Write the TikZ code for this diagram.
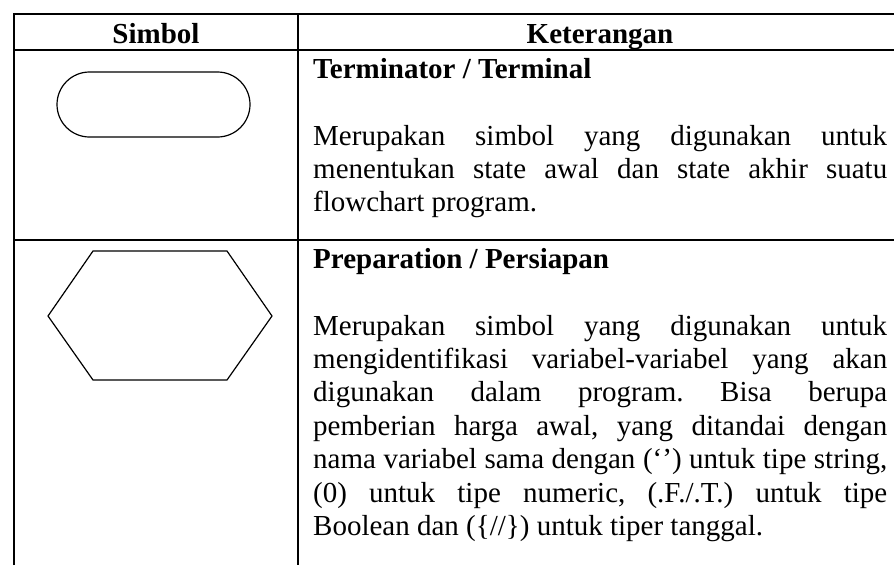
\documentclass[tikz,border=0pt]{standalone}
\usepackage{fontspec}
\setmainfont{Liberation Serif}
\usepackage{tikz}
\usetikzlibrary{positioning}

\newcommand{\celltext}[1]{\parbox[t]{574pt}{\fontsize{29}{33.4}\selectfont\frenchspacing\hyphenpenalty=10000 #1}}

\begin{document}
\begin{tikzpicture}[x=1pt,y=-1pt,
  headcell/.style={font=\fontsize{29}{33.4}\selectfont\bfseries,anchor=base,inner sep=0},
  rowtitle/.style={font=\fontsize{29}{33.4}\selectfont\bfseries,anchor=base west,inner sep=0},
  rowbody/.style={anchor=base west,inner sep=0},
  rule/.style={line width=2pt},
  symbolline/.style={line width=1.2pt}]
\path[use as bounding box,fill=white] (0,0) rectangle (894,565);
% table rules
\draw[rule] (14,565) -- (14,14) -- (894,14);
\draw[rule] (14,50) -- (894,50);
\draw[rule] (14,240) -- (894,240);
\draw[rule] (298,14) -- (298,565);
% header
\node[headcell] (simbol) at (156,43) {Simbol};
\node[headcell] (keterangan) at (600,43) {Keterangan};
% terminator
\draw[symbolline,rounded corners=32.5pt] (57,72) rectangle (250,137);
\node[rowtitle] (terminator) at (313,78) {Terminator / Terminal};
\node[rowbody] (terminatordesc) at (313,145) {\celltext{Merupakan simbol yang digunakan untuk\linebreak menentukan state awal dan state akhir suatu\linebreak flowchart program.}};
% preparation
\draw[symbolline] (48,316) -- (93,251) -- (227,251) -- (272,316) -- (227,380) -- (93,380) -- cycle;
\node[rowtitle] (preparation) at (313,268) {Preparation / Persiapan};
\node[rowbody] (preparationdesc) at (313,335) {\celltext{Merupakan simbol yang digunakan untuk\linebreak mengidentifikasi variabel-variabel yang akan\linebreak digunakan dalam program. Bisa berupa\linebreak pemberian harga awal, yang ditandai dengan\linebreak nama variabel sama dengan (‘’) untuk tipe string,\linebreak (0) untuk tipe numeric, (.F./.T.) untuk tipe\linebreak Boolean dan (\{//\}) untuk tiper tanggal.}};
\end{tikzpicture}
\end{document}
